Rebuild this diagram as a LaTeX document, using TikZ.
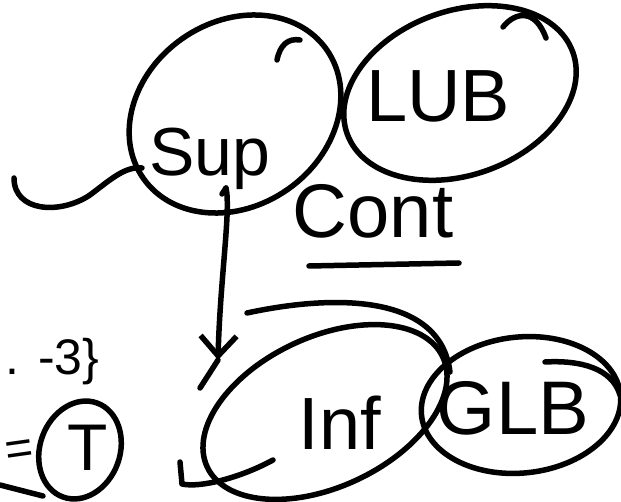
\documentclass[tikz,border=0pt]{standalone}
\usepackage{fontspec}
\setmainfont{Liberation Sans}
\usetikzlibrary{arrows.meta}

\tikzset{
  pen/.style={line width=5.5pt, line cap=round, line join=round},
  word/.style={inner sep=0pt, anchor=base},
}

\begin{document}
\begin{tikzpicture}[x=1pt, y=-1pt, pen]
\useasboundingbox (0,0) rectangle (621,502);
\clip (0,0) rectangle (621,502);

	% upper pair of ellipses
	\draw[rotate around={35:(235,114)}] (235,114) ellipse (112 and 92);
	\draw[rotate around={20:(460,93)}] (460,93) ellipse (120 and 82);
	% stroke overlaps at the top
	\draw (277,60) .. controls (280,45) and (288,38) .. (300,40);
	\draw (503,27) .. controls (515,12) and (535,8) .. (546,38);
	% wavy line into the left ellipse
	\draw (14,178) .. controls (14,212) and (60,215) .. (90,195) .. controls (110,180) and (125,166) .. (142,168);

	% lower pair of ellipses
	\draw[rotate around={25:(325,412)}] (325,412) ellipse (130 and 75);
	\draw[rotate around={6:(521,405)}] (521,405) ellipse (100 and 68);
	\draw (247,313) .. controls (330,295) and (440,292) .. (450,372);
	\draw (545,362) .. controls (580,360) and (612,368) .. (620,395);
	\draw (180,462) -- (182,484) .. controls (200,488) and (240,478) .. (273,460);

	% circled T at the left edge
	\draw[rotate around={-20:(80,450)}] (80,450) ellipse (40 and 50);
	\draw (0,485) -- (43,496);

	% Text nodes
	\node[word, font=\fontsize{68}{68}\selectfont] (sup) at (210,176) {Sup};
	\node[word, font=\fontsize{74}{74}\selectfont] (lub) at (438,122) {LUB};
	\node[word, font=\fontsize{76}{76}\selectfont] (cont) at (373,238) {Cont};
	\node[word, font=\fontsize{74}{74}\selectfont] (inf) at (340,449) {Inf};
	\node[word, font=\fontsize{76}{76}\selectfont] (glb) at (513,434) {GLB};
	\node[word, anchor=base east, font=\fontsize{50}{50}\selectfont] (tail) at (102,374) {. -3\}};
	\node[word, font=\fontsize{66}{66}\selectfont] (tee) at (88,470) {T};
	\node[word, anchor=base east, rotate=8, font=\fontsize{48}{48}\selectfont] (eq) at (38,462) {=};

	\draw (309,266) -- (459,263);

	% Arrow
	\coordinate (supfoot) at (226,188);
	\coordinate (infhead) at (218,360);
	\draw (222,194) -- (supfoot);
	\draw[-{Straight Barb[length=20pt, width=36pt]}] (supfoot) .. controls (231,210) and (220,280) .. (infhead);
	\draw (infhead) -- (200,388);
\end{tikzpicture}
\end{document}
